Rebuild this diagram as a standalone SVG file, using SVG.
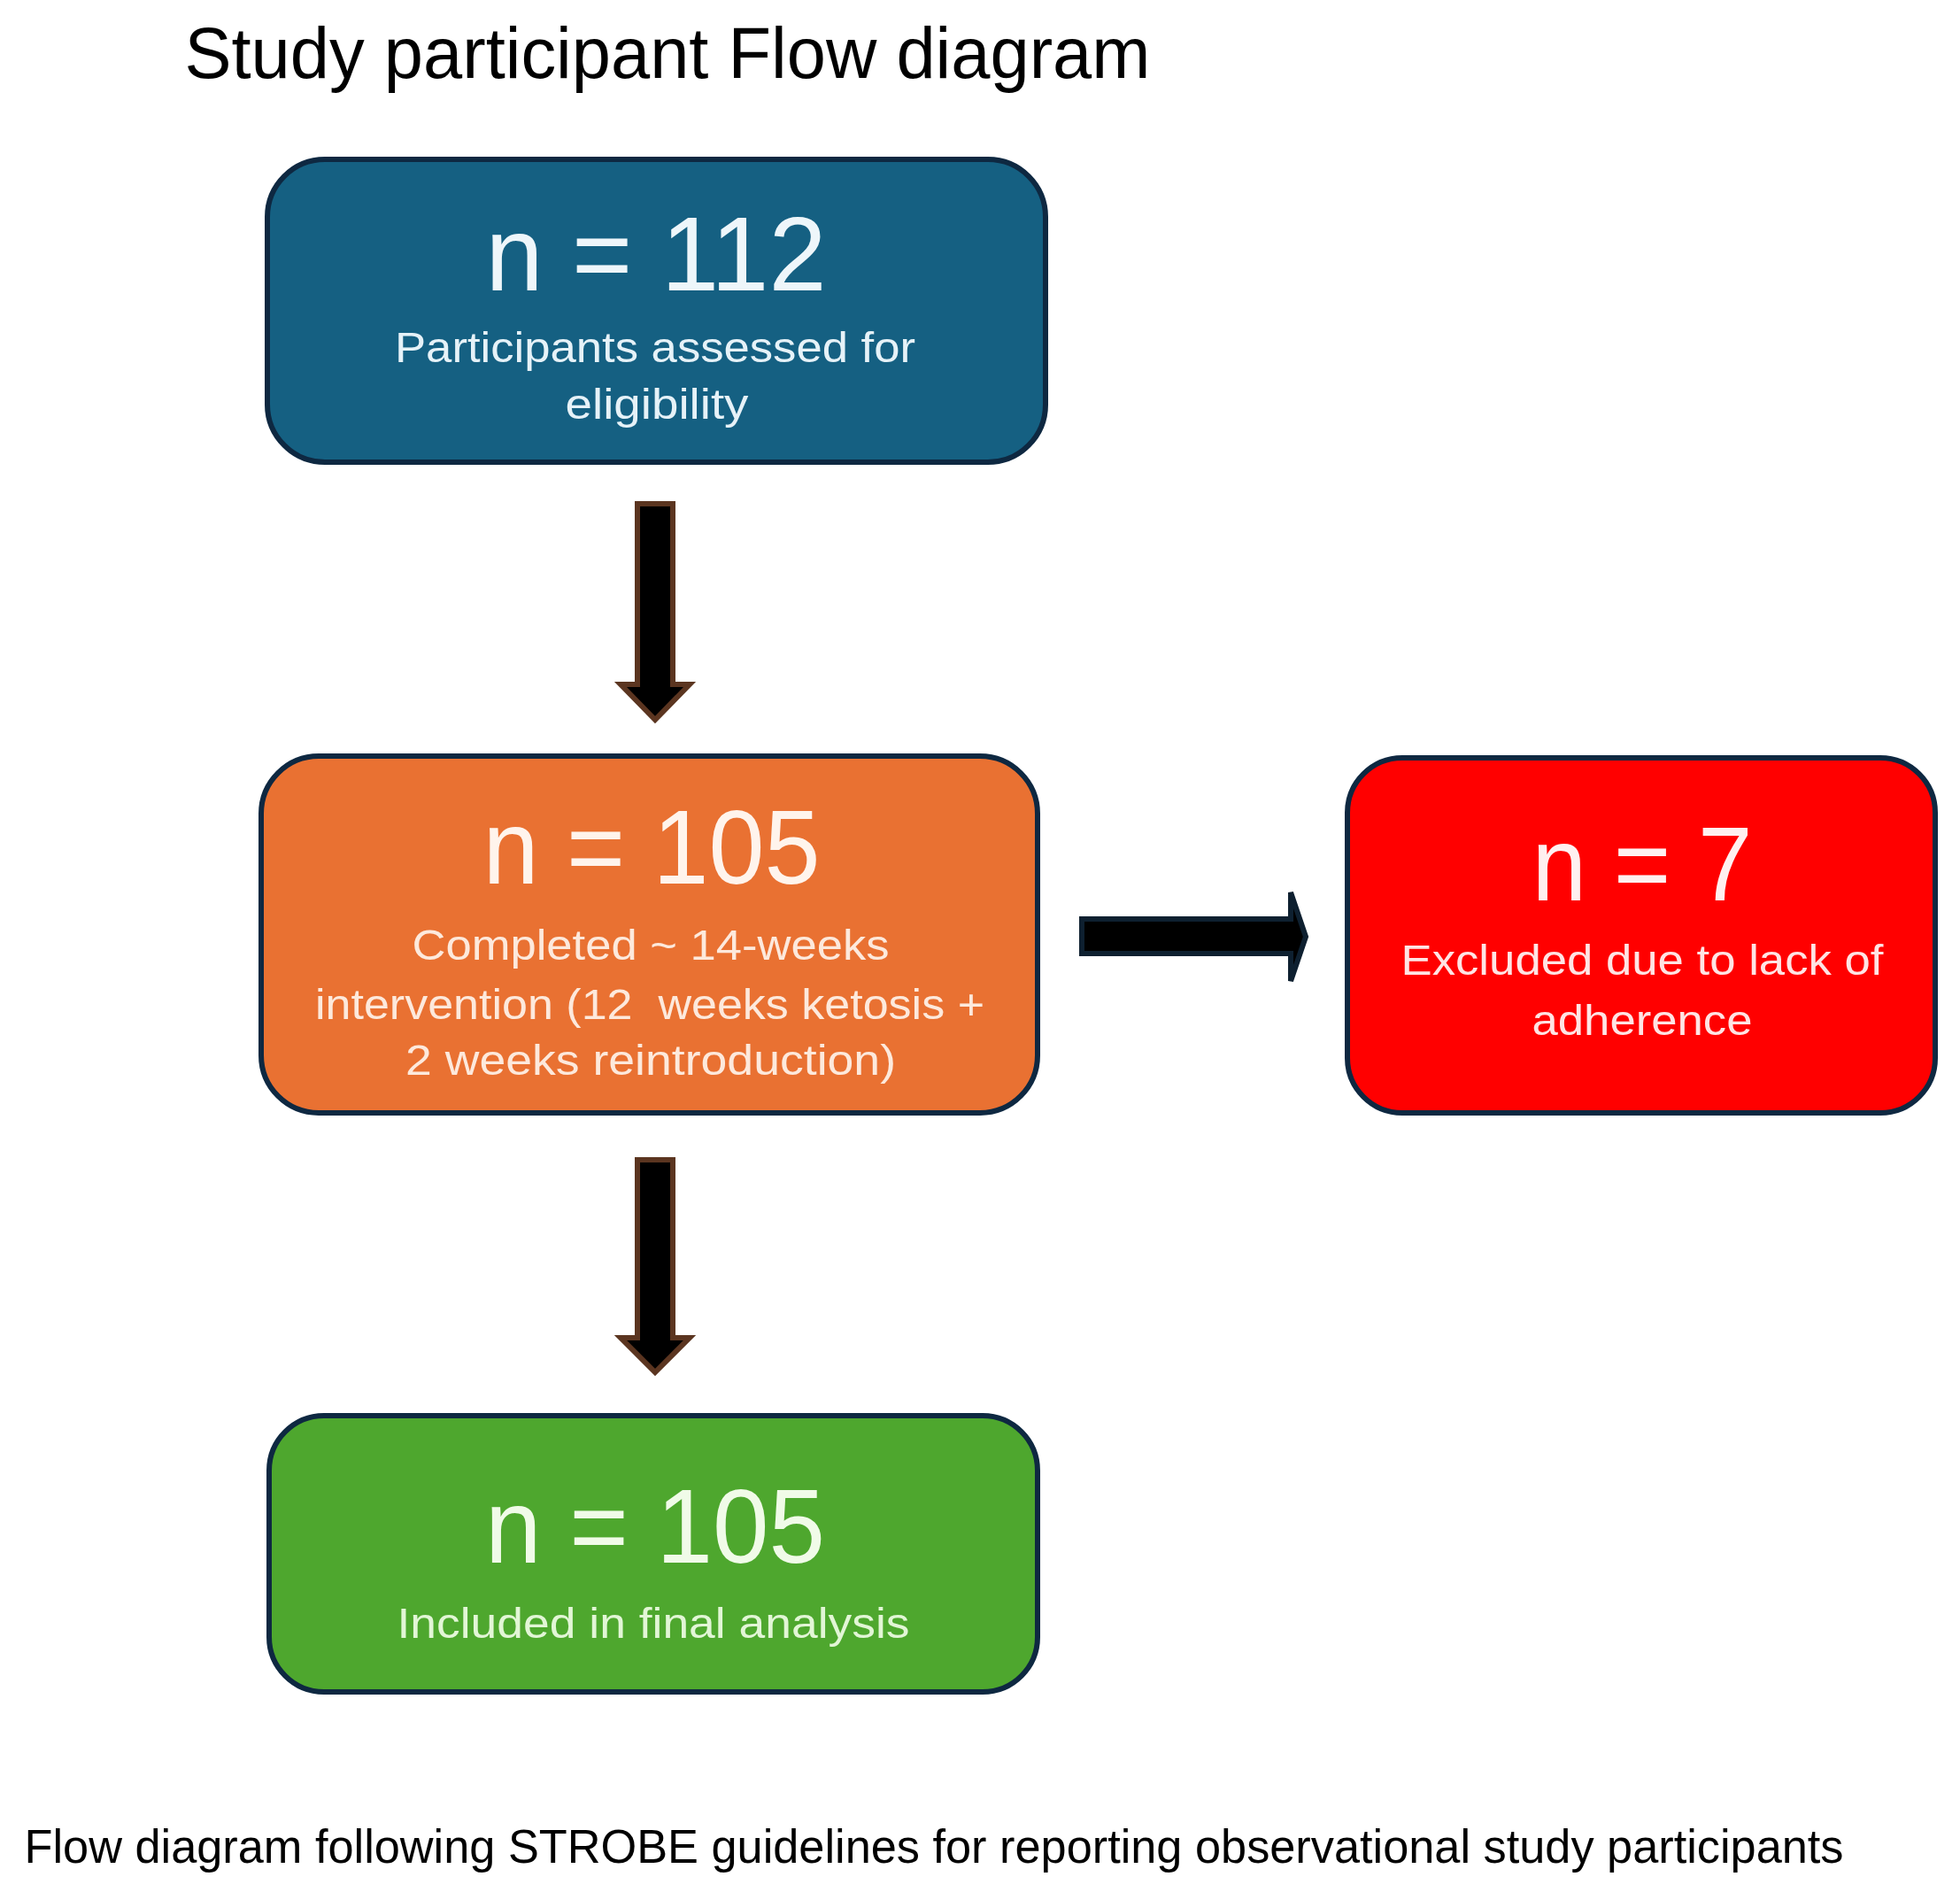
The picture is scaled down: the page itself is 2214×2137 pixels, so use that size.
<svg xmlns="http://www.w3.org/2000/svg" width="2214" height="2137" viewBox="0 0 2214 2137">
<style>
text{font-family:"Liberation Sans Narrow","Liberation Sans",Arial,sans-serif;text-anchor:middle}
.box{stroke:#0E2841;stroke-width:6}
.big{font-size:118px}
.sm{font-size:48px}
.arrV{fill:#000;stroke:#5b3520;stroke-width:6;stroke-linejoin:miter}
.arrH{fill:#000;stroke:#0E2030;stroke-width:6;stroke-linejoin:miter}
</style>
<rect width="2214" height="2137" fill="#ffffff"/>
<text id="title" x="754" y="88" font-size="82" fill="#000" textLength="1091" lengthAdjust="spacingAndGlyphs">Study participant Flow diagram</text>
<g id="connectors">
<polygon class="arrV" points="720,569 760,569 760,773 779,773 740,813 701,773 720,773"/>
<polygon class="arrV" points="720,1310 760,1310 760,1511 779,1511 740,1550 701,1511 720,1511"/>
<polygon class="arrH" points="1222,1038 1458,1038 1458,1008 1475,1058 1458,1108 1458,1077 1222,1077"/>
</g>
<g id="node-assessed">
<rect class="box" x="302" y="180" width="879" height="342" rx="65" fill="#156082"/>
<text class="big" x="741" y="328" fill="#eef6fa" textLength="385" lengthAdjust="spacingAndGlyphs">n = 112</text>
<text class="sm" x="740" y="409" fill="#e6f2f8" textLength="588" lengthAdjust="spacingAndGlyphs">Participants assessed for</text>
<text class="sm" x="742" y="473" fill="#e6f2f8" textLength="207" lengthAdjust="spacingAndGlyphs">eligibility</text>
</g>
<g id="node-completed">
<rect class="box" x="295" y="854" width="877" height="403" rx="65" fill="#E97132"/>
<text class="big" x="736" y="998" fill="#fff4ec" textLength="381" lengthAdjust="spacingAndGlyphs">n = 105</text>
<text class="sm" x="735" y="1084" fill="#fde9dc" textLength="539" lengthAdjust="spacingAndGlyphs">Completed ~ 14-weeks</text>
<text class="sm" x="734" y="1151" fill="#fde9dc" textLength="756" lengthAdjust="spacingAndGlyphs">intervention (12&#160; weeks ketosis +</text>
<text class="sm" x="735" y="1214" fill="#fde9dc" textLength="554" lengthAdjust="spacingAndGlyphs">2 weeks reintroduction)</text>
</g>
<g id="node-excluded">
<rect class="box" x="1522" y="856" width="664" height="401" rx="62" fill="#FF0000"/>
<text class="big" x="1855" y="1017" fill="#fff0f0" textLength="249" lengthAdjust="spacingAndGlyphs">n = 7</text>
<text class="sm" x="1855" y="1101" fill="#ffe4e4" textLength="545" lengthAdjust="spacingAndGlyphs">Excluded due to lack of</text>
<text class="sm" x="1855" y="1169" fill="#ffe4e4" textLength="249" lengthAdjust="spacingAndGlyphs">adherence</text>
</g>
<g id="node-included">
<rect class="box" x="304" y="1599" width="868" height="312" rx="62" fill="#4EA72E"/>
<text class="big" x="740" y="1765" fill="#f0fbe8" textLength="384" lengthAdjust="spacingAndGlyphs">n = 105</text>
<text class="sm" x="738" y="1850" fill="#e2f6d6" textLength="579" lengthAdjust="spacingAndGlyphs">Included in final analysis</text>
</g>
<text id="caption" x="1055" y="2104" font-size="54" fill="#000" textLength="2055" lengthAdjust="spacingAndGlyphs">Flow diagram following STROBE guidelines for reporting observational study participants</text>
</svg>
